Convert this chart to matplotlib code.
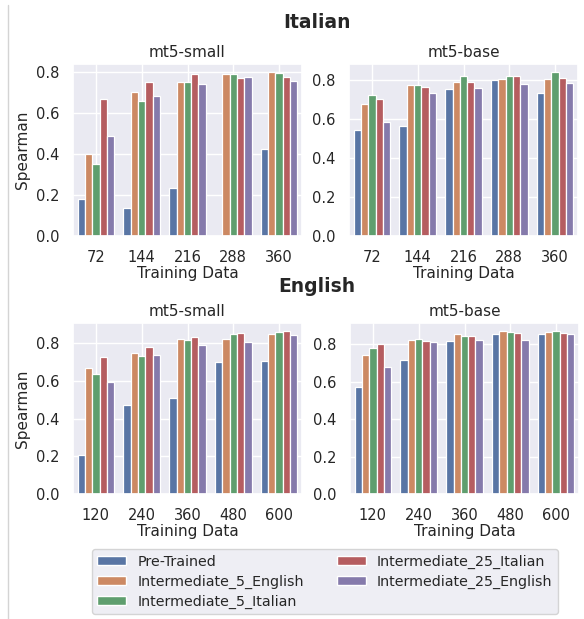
import numpy as np
import matplotlib
matplotlib.use("Agg")
import matplotlib.pyplot as plt
import seaborn as sns
from matplotlib.lines import Line2D
from matplotlib.patches import Patch

sns.set_theme(style="darkgrid")
plt.rcParams['font.family'] = ['DejaVu Sans']

series_names = ["Pre-Trained", "Intermediate_5_English", "Intermediate_5_Italian",
                "Intermediate_25_Italian", "Intermediate_25_English"]
colors = ["#5975a4", "#cc8963", "#5f9e6e", "#b55d60", "#857aab"]

it_cats = ["72", "144", "216", "288", "360"]
en_cats = ["120", "240", "360", "480", "600"]

# Italian, mt5-small
it_small_pre = [0.181, 0.137, 0.235, np.nan, 0.426]
it_small_i5en = [0.400, 0.702, 0.754, 0.789, 0.800]
it_small_i5it = [0.351, 0.660, 0.750, 0.789, 0.795]
it_small_i25it = [0.670, 0.750, 0.789, 0.772, 0.776]
it_small_i25en = [0.488, 0.686, 0.740, 0.777, 0.759]

# Italian, mt5-base
it_base_pre = [0.541, 0.564, 0.754, 0.798, 0.730]
it_base_i5en = [0.678, 0.771, 0.788, 0.802, 0.805]
it_base_i5it = [0.723, 0.771, 0.817, 0.822, 0.839]
it_base_i25it = [0.702, 0.764, 0.790, 0.819, 0.809]
it_base_i25en = [0.586, 0.730, 0.757, 0.779, 0.786]

# English, mt5-small
en_small_pre = [0.205, 0.471, 0.510, 0.703, 0.704]
en_small_i5en = [0.667, 0.750, 0.823, 0.825, 0.851]
en_small_i5it = [0.635, 0.735, 0.820, 0.850, 0.858]
en_small_i25it = [0.727, 0.782, 0.835, 0.855, 0.865]
en_small_i25en = [0.595, 0.736, 0.791, 0.805, 0.842]

# English, mt5-base
en_base_pre = [0.569, 0.716, 0.816, 0.852, 0.852]
en_base_i5en = [0.740, 0.820, 0.855, 0.869, 0.864]
en_base_i5it = [0.777, 0.825, 0.845, 0.866, 0.868]
en_base_i25it = [0.800, 0.816, 0.841, 0.857, 0.861]
en_base_i25en = [0.676, 0.809, 0.821, 0.820, 0.855]

panels = [
    ("mt5-small", it_cats, [it_small_pre, it_small_i5en, it_small_i5it, it_small_i25it, it_small_i25en],
     [73/584, 1-236/619, 229/584, 172/619], True),
    ("mt5-base", it_cats, [it_base_pre, it_base_i5en, it_base_i5it, it_base_i25it, it_base_i25en],
     [349/584, 1-236/619, 229/584, 172/619], False),
    ("mt5-small", en_cats, [en_small_pre, en_small_i5en, en_small_i5it, en_small_i25it, en_small_i25en],
     [73/584, 1-494/619, 229/584, 171/619], True),
    ("mt5-base", en_cats, [en_base_pre, en_base_i5en, en_base_i5it, en_base_i25it, en_base_i25en],
     [350/584, 1-494/619, 229/584, 171/619], False),
]

fig = plt.figure(figsize=(5.84, 6.19), dpi=100)

n = len(series_names)
group_w = 0.8
bw = group_w / n
for title, cats, data, rect, show_ylabel in panels:
    ax = fig.add_axes(rect)
    x = np.arange(len(cats))
    for i, (vals, c) in enumerate(zip(data, colors)):
        offs = -group_w/2 + bw*(i + 0.5)
        ax.bar(x + offs, vals, width=bw, color=c, edgecolor="white", linewidth=0.9)
    ax.set_xticks(x)
    ax.set_xticklabels(cats, fontsize=10.5)
    ax.set_xlim(-0.5, len(cats) - 0.5)
    ax.set_yticks([0.0, 0.2, 0.4, 0.6, 0.8])
    ax.set_yticklabels(["0.0", "0.2", "0.4", "0.6", "0.8"], fontsize=10.5)
    ax.tick_params(axis='both', pad=4)
    ax.set_title(title, fontsize=11, pad=5)
    ax.set_xlabel("Training Data", fontsize=11, labelpad=1)
    if show_ylabel:
        ax.set_ylabel("Spearman", fontsize=11)

fig.text(317/584, 1-22/619, "Italian", ha="center", va="center", fontsize=13.5, fontweight="bold")
fig.text(317/584, 1-287/619, "English", ha="center", va="center", fontsize=13.5, fontweight="bold")

handles = [Patch(facecolor=c, edgecolor="white", label=l) for c, l in zip(colors, series_names)]
fig.legend(handles=handles, loc="lower center", bbox_to_anchor=(325/584, -0.004), ncol=2,
           fontsize=10.3, frameon=True, labelspacing=0.4, columnspacing=2.3,
           handleheight=0.6)

fig.add_artist(Line2D([7.5/584, 7.5/584], [0, 1-5/619], transform=fig.transFigure,
                      color="#d4d4d4", lw=1))

fig.savefig("out.png", dpi=100)
